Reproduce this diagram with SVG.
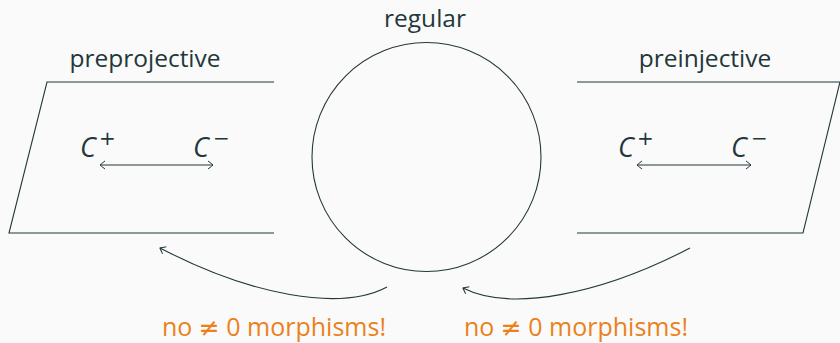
<svg xmlns="http://www.w3.org/2000/svg" width="840" height="343" viewBox="0 0 840 343">
<defs>
<style>
.ln{fill:none;stroke:#23373b;stroke-width:1.1}
.t{font-family:"Open Sans","DejaVu Sans",sans-serif;font-size:24.5px;fill:#23373b}
.m{font-family:"Open Sans","DejaVu Sans",sans-serif;font-size:27px;font-style:italic;fill:#23373b}
.s{font-family:"DejaVu Sans",sans-serif;font-size:20px;fill:#23373b}
.o{font-family:"Open Sans","DejaVu Sans",sans-serif;font-size:25px;fill:#eb811b}
.ne{font-family:"DejaVu Sans",sans-serif}
</style>
<marker id="ah" viewBox="-6 -5 8 10" markerWidth="8" markerHeight="10" refX="0" refY="0" orient="auto-start-reverse" markerUnits="userSpaceOnUse">
<path d="M-5,-4 Q-1,-1 0,0 Q-1,1 -5,4" fill="none" stroke="#23373b" stroke-width="1"/>
</marker>
</defs>
<rect width="840" height="343" fill="#fafafa"/>
<g id="preprojective">
<path class="ln" d="M274,82 H47 L9,233 H274"/>
<text class="t" x="145" y="67" text-anchor="middle">preprojective</text>
<text class="m" x="80" y="157">C</text><text class="s" x="99" y="145">+</text>
<text class="m" x="193" y="157">C</text><text class="s" x="213" y="145">−</text>
</g>
<g id="preinjective">
<path class="ln" d="M577,82 H840 L803,233 H577"/>
<text class="t" x="705" y="67" text-anchor="middle">preinjective</text>
<text class="m" x="618" y="157">C</text><text class="s" x="637" y="145">+</text>
<text class="m" x="731" y="157">C</text><text class="s" x="751" y="145">−</text>
</g>
<g id="regular">
<circle class="ln" cx="426.5" cy="157" r="114.5"/>
<text class="t" x="425" y="27" text-anchor="middle">regular</text>
</g>
<g id="labels">
<text class="o" x="274" y="336" text-anchor="middle">no <tspan class="ne">≠</tspan> 0 morphisms!</text>
<text class="o" x="576" y="336" text-anchor="middle">no <tspan class="ne">≠</tspan> 0 morphisms!</text>
</g>
<g id="connectors">
<path class="ln" d="M100,165 H213" marker-start="url(#ah)" marker-end="url(#ah)"/>
<path class="ln" d="M637,165 H751" marker-start="url(#ah)" marker-end="url(#ah)"/>
<path class="ln" d="M387,287 C340,312 250,295 160,248" marker-end="url(#ah)"/>
<path class="ln" d="M690,248 C600,295 510,312 463,288" marker-end="url(#ah)"/>
</g>
</svg>
